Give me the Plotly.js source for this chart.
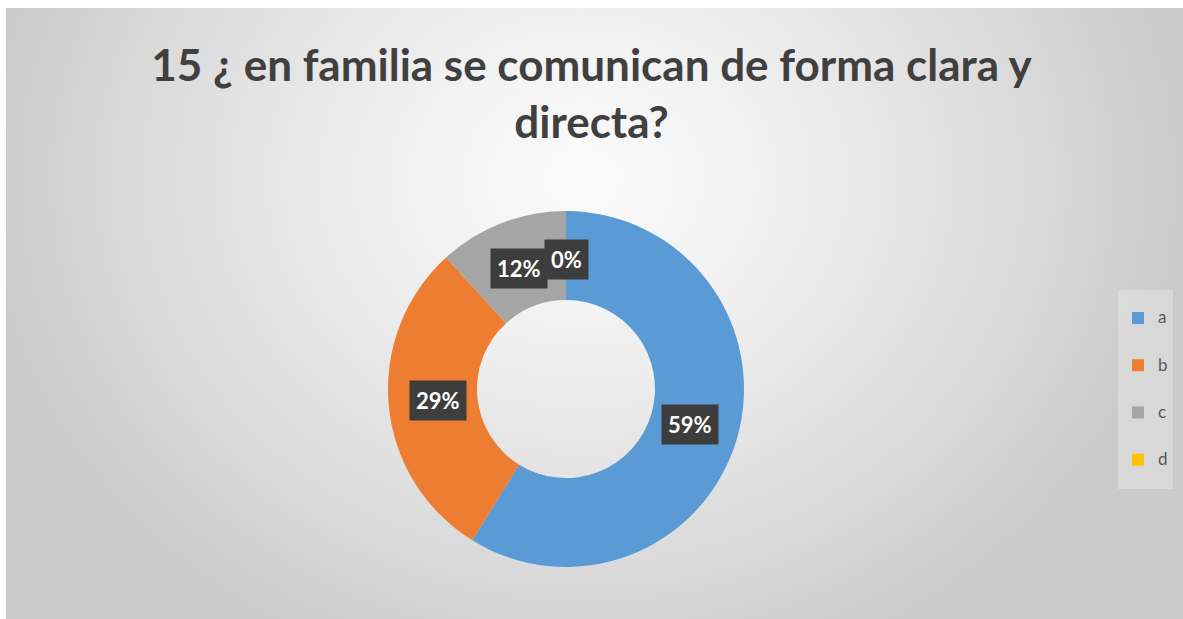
<!DOCTYPE html>
<html>
<head>
<meta charset="utf-8">
<script src="https://cdn.plot.ly/plotly-3.0.1.min.js"></script>
<style>
  html, body { margin: 0; padding: 0; background: #ffffff; }
  #wrap { position: relative; width: 1183px; height: 619px; background: #ffffff; overflow: hidden; }
  #bg { position: absolute; left: 6px; top: 8px; width: 1177px; height: 611px;
        background: radial-gradient(ellipse 600px 520px at 49% 28%, #fbfbfb 0%, #f1f1f1 30%, #dadada 75%, #cbcbcb 100%); }
  #chart { position: absolute; left: 0; top: 0; width: 1183px; height: 619px; }
</style>
</head>
<body>
<div id="wrap"><div id="bg"></div><div id="chart"></div></div>
<script>
const categories = ['a', 'b', 'c', 'd'];
const counts = [10, 5, 2, 0];
const sliceColors = ['#5B9BD5', '#ED7D31', '#A5A5A5', '#FFC000'];
const titleText = '15 ¿ en familia se comunican de forma clara y<br>directa?';

const W = 1183, H = 619;
const domX = [388 / W, 744 / W];
const domY = [(H - 567) / H, (H - 211) / H];

const total = counts.reduce((s, v) => s + v, 0);
const cx = (domX[0] + domX[1]) / 2, cy = (domY[0] + domY[1]) / 2;
const rOuterPx = Math.min(W * (domX[1] - domX[0]), H * (domY[1] - domY[0])) / 2;
const rLabelPx = rOuterPx * 0.725;

let cum = 0;
const annotations = counts.map((v, i) => {
  const mid = (cum + v / 2) / total * 2 * Math.PI;
  cum += v;
  const pct = Math.round(v / total * 100) + '%';
  return {
    xref: 'paper', yref: 'paper',
    x: cx + rLabelPx * Math.sin(mid) / W,
    y: cy + rLabelPx * Math.cos(mid) / H,
    text: '<b>' + pct + '</b>',
    showarrow: false,
    font: { family: 'Lato, "Open Sans", sans-serif', size: 22, color: '#ffffff' },
    bgcolor: '#3d3d3d',
    borderpad: 6,
    xanchor: 'center', yanchor: 'middle'
  };
});

const trace = {
  type: 'pie',
  labels: categories.map(c => '<span style="font-size:17px;baseline-shift:8px">' + c + '</span>'),
  values: counts,
  hole: 0.5,
  sort: false,
  direction: 'clockwise',
  rotation: 0,
  textinfo: 'none',
  marker: { colors: sliceColors, line: { width: 0 } },
  domain: { x: domX, y: domY },
  showlegend: true
};

const layout = {
  width: W, height: H,
  margin: { l: 0, r: 0, t: 0, b: 0 },
  paper_bgcolor: 'rgba(0,0,0,0)',
  plot_bgcolor: 'rgba(0,0,0,0)',
  title: {
    text: '<b>' + titleText + '</b>',
    font: { family: 'Lato, "Open Sans", sans-serif', size: 44, color: '#404040' },
    x: 0.5, xanchor: 'center',
    y: 1 - 81 / H, yanchor: 'top',
    xref: 'container', yref: 'container'
  },
  legend: {
    x: 1118 / W, xanchor: 'left',
    y: 1 - 389 / H, yanchor: 'middle',
    bgcolor: 'rgba(255,255,255,0.25)',
    font: { family: 'Lato, "Open Sans", sans-serif', size: 34, color: '#595959' },
    itemclick: false
  },
  annotations: annotations
};

Plotly.newPlot('chart', [trace], layout, { displayModeBar: false, staticPlot: true });
</script>
</body>
</html>
